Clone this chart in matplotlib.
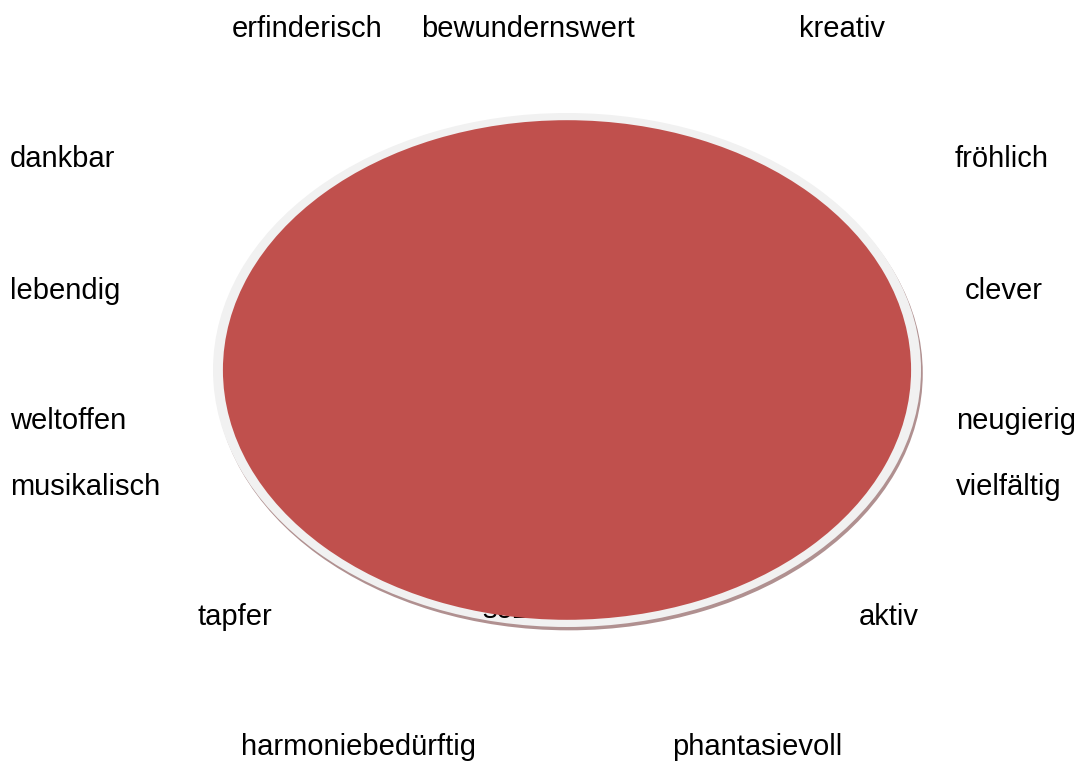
import matplotlib
matplotlib.use("Agg")
import matplotlib.pyplot as plt

# Data: single-slice pie with descriptive word labels around it
slice_values = [1]
slice_colors = ["#C0504D"]
words = ["erfinderisch", "bewundernswert", "kreativ", "dankbar", "fröhlich",
         "lebendig", "clever", "weltoffen", "neugierig", "musikalisch",
         "vielfältig", "tapfer", "sozial", "aktiv", "harmoniebedürftig",
         "phantasievoll"]

# Layout (pixel positions: left x, center y)
word_pos = [(232, 29), (421, 29), (799, 29), (10, 159), (955, 159),
            (10, 291), (965, 291), (10, 421), (956, 421), (10, 487),
            (956, 487), (197, 617), (482, 610), (859, 617), (241, 747),
            (672, 747)]

W, H = 1079, 761
plt.rcParams["font.family"] = ["Liberation Sans", "DejaVu Sans"]
fig = plt.figure(figsize=(W / 100, H / 100), dpi=100)
fig.patch.set_facecolor("white")

x0, x1, y0, y1 = 213, 921, 113, 627
ax = fig.add_axes([x0 / W, 1 - y1 / H, (x1 - x0) / W, (y1 - y0) / H])
ax.patch.set_alpha(0)
ax.axis("off")

# shadow
w1, _ = ax.pie(slice_values, colors=["#b09090"], radius=1.0, center=(0.005, -0.013),
               startangle=90, wedgeprops=dict(linewidth=0))
# light ring
w2, _ = ax.pie(slice_values, colors=["#f1f1f1"], radius=1.0, center=(0, 0),
               startangle=90, wedgeprops=dict(linewidth=0))
# main slice
w3, _ = ax.pie(slice_values, colors=slice_colors, radius=0.972, center=(0, 0),
               startangle=90, wedgeprops=dict(linewidth=0))
for p in w1:
    p.set_zorder(1)
for p in w2:
    p.set_zorder(2)
for p in w3:
    p.set_zorder(4)
ax.set_aspect("auto")
ax.set_xlim(-1.0, 1.0)
ax.set_ylim(-1.0, 1.0)

for w, (x, y) in zip(words, word_pos):
    ax.text(x / W, 1 - y / H, w, ha="left", va="center", fontsize=21,
            color="black", zorder=3, transform=fig.transFigure, clip_on=False)

fig.savefig("out.png", dpi=100, facecolor="white")
